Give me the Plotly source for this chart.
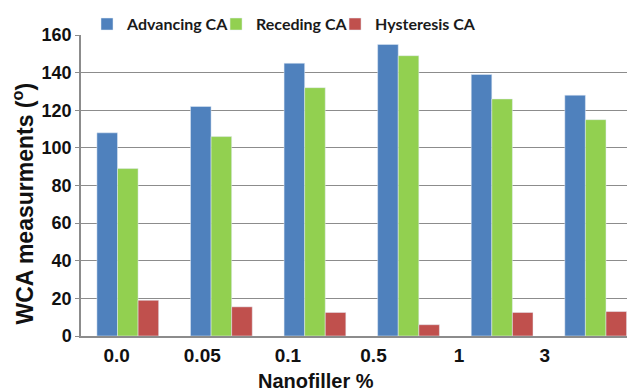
import plotly.graph_objects as go

categories = ["0.0", "0.05", "0.1", "0.5", "1", "3"]
advancing = [108, 122, 145, 155, 139, 128]
receding = [89, 106, 132, 149, 126, 115]
hysteresis = [19, 15.5, 12.5, 6, 12.5, 13]
y_ticks = [0, 20, 40, 60, 80, 100, 120, 140, 160]

idx = list(range(len(categories)))

AX_FONT = "Liberation Sans, Arial, sans-serif"
GRID = "#8c8c8c"

fig = go.Figure()
fig.add_trace(go.Bar(x=idx, y=advancing, name="Advancing CA", marker_color="#4F81BD",
                     legend="legend"))
fig.add_trace(go.Bar(x=idx, y=receding, name="Receding CA", marker_color="#92D050",
                     legend="legend2"))
fig.add_trace(go.Bar(x=idx, y=hysteresis, name="Hysteresis CA", marker_color="#C0504D",
                     legend="legend3"))

leg_common = dict(orientation="h", xref="container", yref="container",
                  y=0.958, xanchor="left", yanchor="middle",
                  font=dict(family="Lato, sans-serif", size=16, color="#1a1a1a", weight="bold"),
                  itemwidth=30, bgcolor="rgba(0,0,0,0)")

fig.update_layout(
    width=627, height=384,
    margin=dict(l=73, r=0, t=27, b=56, autoexpand=False),
    paper_bgcolor="white", plot_bgcolor="white",
    barmode="group", bargap=0.34, bargroupgap=0,
    showlegend=True,
    legend=dict(leg_common, x=0.1260),
    legend2=dict(leg_common, x=0.3318),
    legend3=dict(leg_common, x=0.5216),
    xaxis=dict(range=[-0.5, 5.42], showticklabels=False, showgrid=False, automargin=False,
               showline=True, linecolor=GRID, linewidth=1.5, ticks="", zeroline=False),
    xaxis2=dict(overlaying="x", side="bottom", range=[-0.417, 6.055], automargin=False,
                tickmode="array", tickvals=idx, ticktext=categories,
                showgrid=False, showline=False, ticks="", zeroline=False,
                ticklabelstandoff=6,
                tickfont=dict(family=AX_FONT, size=19, color="#111", weight="bold")),
    yaxis=dict(range=[0, 160], tickmode="array", tickvals=y_ticks, automargin=False,
               showgrid=True, gridcolor=GRID, gridwidth=1.2,
               showline=True, linecolor=GRID, linewidth=1.5,
               ticks="outside", ticklen=4, tickcolor=GRID, zeroline=False,
               tickfont=dict(family=AX_FONT, size=18, color="#111", weight="bold")),
)

# invisible trace to activate xaxis2 ticks
fig.add_trace(go.Scatter(x=idx, y=[None]*len(idx), xaxis="x2", showlegend=False,
                         hoverinfo="skip", mode="markers"))

fig.add_annotation(text="WCA measurments (<sup>o</sup>)", textangle=-90,
                   xref="paper", yref="paper", x=-0.1047, y=0.44,
                   xanchor="center", yanchor="middle", showarrow=False,
                   font=dict(family=AX_FONT, size=23, color="#111", weight="bold"))

fig.add_annotation(text="Nanofiller %", xref="paper", yref="paper",
                   x=0.424, y=-0.151, xanchor="center", yanchor="middle", showarrow=False,
                   font=dict(family=AX_FONT, size=20, color="#111", weight="bold"))

fig.write_html("out.html")
